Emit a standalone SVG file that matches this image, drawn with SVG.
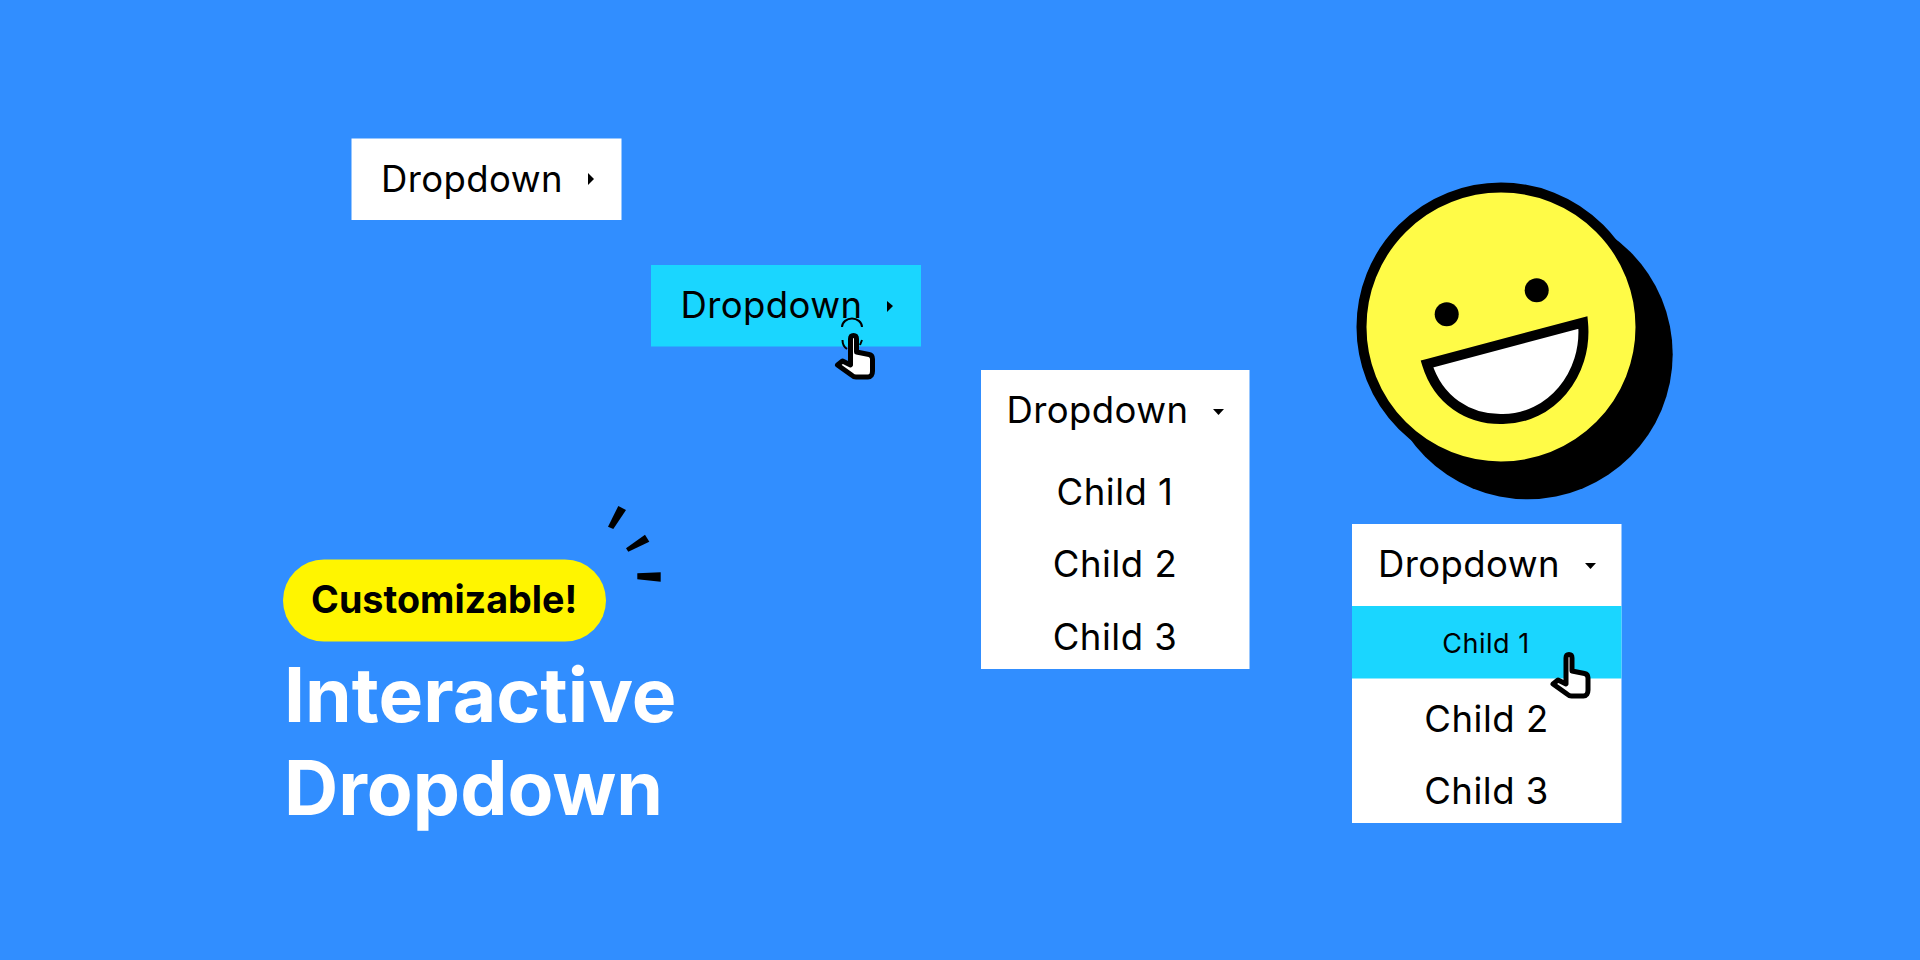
<svg xmlns="http://www.w3.org/2000/svg" width="1920" height="960" viewBox="0 0 1920 960">
<style>
text{font-family:Inter,"Noto Sans","Liberation Sans",sans-serif;fill:#000}
.dd{font-size:36.500px;letter-spacing:.4px}
.ch{font-size:36.500px;text-anchor:middle;letter-spacing:.5px}
.w{fill:#fff}.c{fill:#1ad6ff}
.k{fill:#000}
.hand{fill:#fff;stroke:#000;stroke-width:5;stroke-linejoin:round}
.title{font-size:75px;font-weight:700;fill:#fff}
</style>
<defs>
<path id="hand" class="hand" d="M6.500 2.500C8.500 2.500 9.500 4 9.500 6L9.500 19L22 21.500C24.500 22 25.500 23.500 25.500 26L25.500 38C25.500 41.500 24 44 21 44L9 44C7 44 6 43.500 4.500 42L-9.500 32L-4.500 28L3.500 32L3.500 6C3.500 4 4.500 2.500 6.500 2.500Z"/>
</defs>
<rect width="1920" height="960" fill="#318eff"/>
<g id="dropdown-closed">
<rect class="w" x="351.500" y="138.500" width="270" height="81.500"/>
<text class="dd" x="381" y="192">Dropdown</text>
<path class="k" d="M588 173L594 179L588 185Z"/>
</g>
<g id="dropdown-hover">
<rect class="c" x="651" y="265" width="270" height="81.500"/>
<text class="dd" x="680.500" y="318">Dropdown</text>
<path class="k" d="M887 301L893 306L887 312Z"/>
<path d="M842 327C842 322 847 318.500 852 318.500C857 318.500 862 322 862 327M842.500 340C842.500 344 844 347 847 349M862 340L860 345" fill="none" stroke="#000" stroke-width="2"/>
<use href="#hand" x="847" y="333"/>
</g>
<g id="dropdown-open">
<rect class="w" x="981" y="370" width="268.500" height="299"/>
<text class="dd" x="1006.500" y="423">Dropdown</text>
<path class="k" d="M1213 409L1224 409L1218.500 415Z"/>
<text class="ch" x="1115" y="505">Child 1</text>
<text class="ch" x="1115" y="577">Child 2</text>
<text class="ch" x="1115" y="650">Child 3</text>
</g>
<g id="dropdown-selected">
<rect class="w" x="1352" y="524" width="269.500" height="299"/>
<rect class="c" x="1352" y="606" width="269.500" height="72.500"/>
<text class="dd" x="1378" y="577">Dropdown</text>
<path class="k" d="M1585 563L1596 563L1590.500 569Z"/>
<text x="1486" y="653" font-size="27" text-anchor="middle" letter-spacing=".55">Child 1</text>
<text class="ch" x="1486.500" y="732">Child 2</text>
<text class="ch" x="1486.500" y="804">Child 3</text>
<use href="#hand" x="1562.500" y="652"/>
</g>
<g id="smiley">
<circle class="k" cx="1527.700" cy="354.300" r="145"/>
<circle cx="1501" cy="327" r="139.500" fill="#fffb47" stroke="#000" stroke-width="10"/>
<circle class="k" cx="1446.700" cy="314.300" r="12"/>
<circle class="k" cx="1536.700" cy="290.300" r="12"/>
<path d="M1427 364L1583 322.500C1588 375 1550 419 1503 419C1468 420 1438 400 1427 364Z" fill="#fff" stroke="#000" stroke-width="10"/>
</g>
<g id="badge">
<rect x="283" y="559.500" width="323" height="82" rx="41" fill="#fff500"/>
<text x="311" y="613" font-size="37.700" font-weight="700">Customizable!</text>
<path class="k" d="M618.300 506L626 510L613.300 529L608 526.700Z"/>
<path class="k" d="M645 534.700L649.300 541.700L628.300 551.700L626 548.300Z"/>
<path class="k" d="M637.300 573.300L660.700 572.300L660.700 581.700L637.300 579.300Z"/>
</g>
<g id="title">
<text class="title" x="284" y="722" style="fill:#fff">Interactive</text>
<text class="title" x="284" y="815" style="fill:#fff">Dropdown</text>
</g>
</svg>
